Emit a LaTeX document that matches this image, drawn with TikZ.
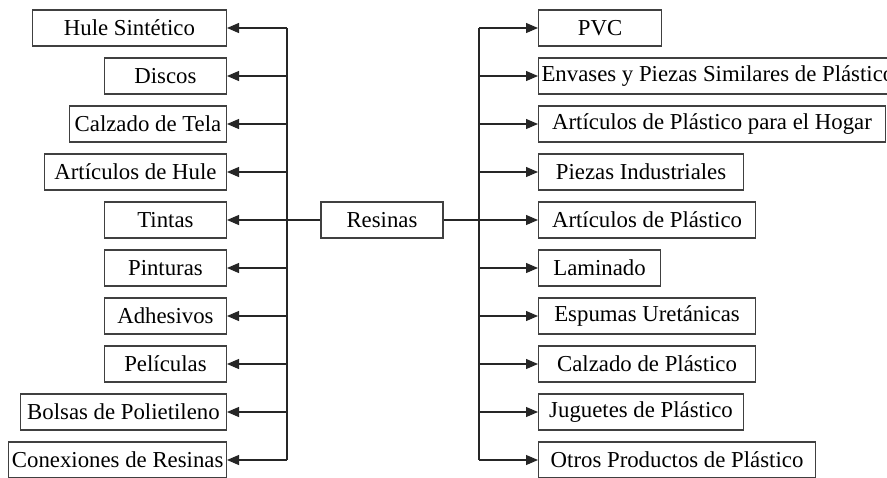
\documentclass[tikz,border=0pt]{standalone}
\usepackage{fontspec}
\setmainfont{Liberation Serif}
\usetikzlibrary{arrows.meta}

\begin{document}
\begin{tikzpicture}
[x=1pt,y=-1pt,
  boxDecorate/.style={shape=rectangle,draw=black!75,line width=1.1pt,
    minimum height=36pt,inner xsep=3pt,inner ysep=0pt,
    font=\fontsize{22.8}{26}\selectfont},%
  lineDecorate/.style={-,draw=black!85,line width=1.1pt},%
  arrowDecorate/.style={lineDecorate,-{Triangle[length=12pt,width=10pt]}}]
\useasboundingbox (0,0) rectangle (887,477);
%% centre node
\node (resinas) at (382,220) [boxDecorate,minimum width=122pt] {Resinas};
%% left column, right edges at x=227
\foreach \nodename/\w/\lbl [count=\i] in {hule/194/Hule Sintético, discos/122/Discos,
  calzadoT/157/Calzado de Tela, articulosH/182/Artículos de Hule, tintas/122/Tintas,
  pinturas/122/Pinturas, adhesivos/122/Adhesivos, peliculas/122/Películas,
  bolsas/206/Bolsas de Polietileno, conexiones/217/Conexiones de Resinas} {
  \pgfmathsetmacro{\yy}{28+48*(\i-1)}
  \node (\nodename) at (227,\yy) [boxDecorate,anchor=east,minimum width=\w pt] {\lbl};
  \coordinate (lj\i) at (287,\yy);
  \draw[arrowDecorate] (lj\i) -- (\nodename.east);
}
%% right column, left edges at x=538
\foreach \nodename/\w/\lbl [count=\i] in {pvc/123/PVC, envases/0/Envases y Piezas Similares de Plástico,
  hogar/347/Artículos de Plástico para el Hogar, piezas/205/Piezas Industriales,
  articulosP/217/Artículos de Plástico, laminado/122/Laminado,
  espumas/217/Espumas Uretánicas, calzadoP/217/Calzado de Plástico,
  juguetes/205/Juguetes de Plástico, otros/277/Otros Productos de Plástico} {
  \pgfmathsetmacro{\yy}{28+48*(\i-1)}
  \node (\nodename) at (538,\yy) [boxDecorate,anchor=west,minimum width=\w pt] {\lbl};
  \coordinate (rj\i) at (479,\yy);
  \draw[arrowDecorate] (rj\i) -- (\nodename.west);
}
%% trunks
\draw[lineDecorate] (lj1) -- (lj10);
\draw[lineDecorate] (rj1) -- (rj10);
\draw[lineDecorate] (resinas.west) -- (lj5);
\draw[lineDecorate] (resinas.east) -- (rj5);
\end{tikzpicture}
\end{document}
